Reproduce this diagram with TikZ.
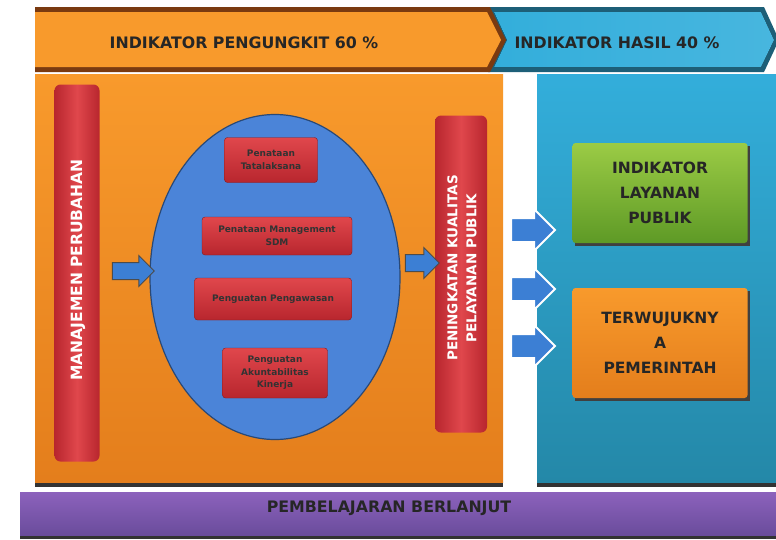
\documentclass[tikz,border=0pt]{standalone}
\usepackage{fontspec}
\setmainfont{DejaVu Sans}
\usetikzlibrary{shapes.geometric,shapes.arrows}
\definecolor{orA}{HTML}{F89A2C}
\definecolor{orB}{HTML}{E47E1C}
\definecolor{blA}{HTML}{33AEDB}
\definecolor{blB}{HTML}{2488A8}
\definecolor{ellF}{HTML}{4B84D8}
\definecolor{redA}{HTML}{B8262E}
\definecolor{redB}{HTML}{E0474C}
\definecolor{grA}{HTML}{9BCB45}
\definecolor{grB}{HTML}{5E9A26}
\definecolor{puA}{HTML}{8C62BC}
\definecolor{puB}{HTML}{6A4C9C}
\definecolor{darkbr}{HTML}{7A3A10}
\definecolor{darkbl}{HTML}{1D5F78}
\definecolor{arrbl}{HTML}{3C7FD4}
\tikzset{
  redbar/.style={rounded corners=6pt, left color=redA, right color=redA, middle color=redB, draw=none},
  smallbox/.style={rounded corners=3pt, top color=redB, bottom color=redA, draw=redA!70!black, align=center, font=\fontsize{9}{12.5}\selectfont\bfseries, text=black!80},
  bigbox/.style={rounded corners=3pt, draw=none, align=center, font=\fontsize{15.5}{25}\selectfont\bfseries, text=black!85},
  blockarr/.style={single arrow, single arrow head extend=7pt, fill=arrbl, draw=black!70, line width=1pt, minimum height=42pt, inner xsep=0pt, inner ysep=8pt},
  wharr/.style={single arrow, single arrow head extend=9pt, fill=arrbl, draw=white, line width=2pt, minimum height=44pt, inner xsep=0pt, inner ysep=11pt},
  bantext/.style={font=\fontsize{15.8}{18}\selectfont\bfseries, text=black!85}
}
\begin{document}
\begin{tikzpicture}[x=1pt,y=-1pt]
\useasboundingbox (0,0) rectangle (776,539);
\fill[white] (0,0) rectangle (776,539);
% top banner
\fill[darkbl] (488,7) -- (764,7) -- (779,40) -- (764,72) -- (488,72) -- (503,40) -- cycle;
\fill[left color=blA, right color=blA!90!white] (494,12) -- (761,12) -- (774,40) -- (761,67) -- (494,67) -- (507,40) -- cycle;
\fill[darkbr] (35,7) -- (490,7) -- (506,40) -- (490,72) -- (35,72) -- cycle;
\fill[orA] (35,12) -- (487,12) -- (501,40) -- (487,67) -- (35,67) -- cycle;
\node[bantext] (b1) at (244,43) {INDIKATOR PENGUNGKIT 60 \%};
\node[bantext] (b2) at (617,43) {INDIKATOR HASIL 40 \%};
% panels
\fill[black!80] (35,74) rectangle (503,487);
\fill[top color=orA, bottom color=orB] (35,74) rectangle (503,482);
\fill[black!80] (537,74) rectangle (776,487);
\fill[top color=blA, bottom color=blB] (537,74) rectangle (776,482);
% purple bar
\fill[black!80] (20,492) rectangle (776,539);
\fill[top color=puA, bottom color=puB] (20,492) rectangle (776,535);
\node[font=\fontsize{15.8}{18}\selectfont\bfseries, text=black!85] (pb) at (389,508) {PEMBELAJARAN BERLANJUT};
% left red bar
\node[redbar, minimum width=45pt, minimum height=377pt] (mp) at (77,273) {};
\node[rotate=90, font=\fontsize{15.5}{16}\selectfont\bfseries, text=white] (mpt) at (78,270) {MANAJEMEN PERUBAHAN};
% ellipse
\node[ellipse, fill=ellF, draw=ellF!55!black, line width=1.2pt, minimum width=250pt, minimum height=325pt] (el) at (275,277) {};
\node[smallbox, minimum width=93pt, minimum height=45pt] (s1) at (271,160) {Penataan\\Tatalaksana};
\node[smallbox, minimum width=150pt, minimum height=38pt] (s2) at (277,236) {Penataan Management\\SDM};
\node[smallbox, minimum width=157pt, minimum height=42pt] (s3) at (273,299) {Penguatan Pengawasan};
\node[smallbox, minimum width=105pt, minimum height=50pt] (s4) at (275,373) {Penguatan\\Akuntabilitas\\Kinerja};
% right red bar
\node[redbar, minimum width=52pt, minimum height=317pt] (pk) at (461,274) {};
\node[rotate=90, align=center, font=\fontsize{13.5}{19}\selectfont\bfseries, text=white] (pkt) at (462,268) {PENINGKATAN KUALITAS\\PELAYANAN PUBLIK};
% arrows
\node[blockarr] (a1) at (129,271) {};
\node[blockarr, minimum height=34pt] (a2) at (418,263) {};
\node[wharr] (r1) at (527,230) {};
\node[wharr] (r2) at (527,289) {};
\node[wharr] (r3) at (527,346) {};
% right boxes
\fill[black!75] (575,146) rectangle (750,246);
\node[bigbox, top color=grA, bottom color=grB, minimum width=175pt, minimum height=100pt] (g) at (660,193) {INDIKATOR\\LAYANAN\\PUBLIK};
\fill[black!75] (575,291) rectangle (750,401);
\node[bigbox, top color=orA, bottom color=orB, minimum width=175pt, minimum height=110pt] (o) at (660,343) {TERWUJUKNY\\A\\PEMERINTAH};
\end{tikzpicture}
\end{document}
